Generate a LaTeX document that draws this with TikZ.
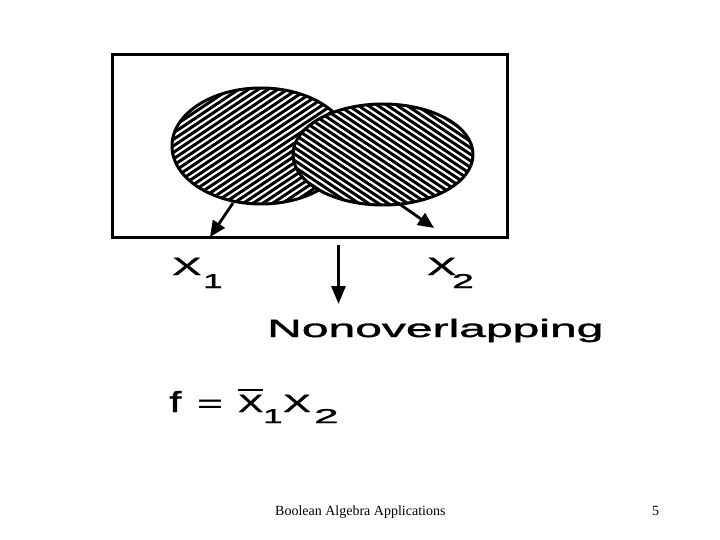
\documentclass[tikz,border=0pt]{standalone}
\usepackage{fontspec}
\setmainfont{Liberation Sans}
\newfontfamily\labfont[FakeBold=1.2]{Liberation Sans}
\newfontfamily\footfont{Liberation Serif}
\usetikzlibrary{arrows.meta}
\newcommand{\wide}[1]{\scalebox{1.75}[1]{#1}}
\newcommand{\subsz}{\fontsize{20}{24}\selectfont}
\newcommand{\bigsz}{\fontsize{29}{32}\selectfont}
\tikzset{
  lab/.style={inner sep=0pt, anchor=base west, font=\labfont\fontsize{25}{30}\selectfont},
  foot/.style={inner sep=0pt, anchor=base west, font=\footfont\fontsize{14}{16}\selectfont},
  hatch/.style={line width=3pt},
  outline/.style={line width=3pt},
  ptr/.style={line width=2.8pt, -{Triangle[length=16pt,width=14pt]}},
}
\begin{document}
\begin{tikzpicture}[x=1pt,y=-1pt]
\useasboundingbox (0,0) rectangle (720,540);
% frame
\draw[outline] (112,55) rectangle (507,237);
% left ellipse
\fill[white] (261,146) ellipse [x radius=89, y radius=58];
\begin{scope}
  \clip (261,146) ellipse [x radius=89, y radius=58];
  \foreach \j in {-182,-175.5,...,182}
    \draw[hatch] (261-150,146+\j+100) -- (261+150,146+\j-100);
\end{scope}
\draw[outline] (261,146) ellipse [x radius=89, y radius=58];
% right ellipse
\fill[white] (383,154.5) ellipse [x radius=90, y radius=50.5];
\begin{scope}
  \clip (383,154.5) ellipse [x radius=90, y radius=50.5];
  \foreach \j in {-182,-175.5,...,182}
    \draw[hatch] (383-150,154.5+\j-100) -- (383+150,154.5+\j+100);
\end{scope}
\draw[outline] (383,154.5) ellipse [x radius=90, y radius=50.5];
% pointers
\coordinate (l1) at (233,203);
\coordinate (l2) at (210,237);
\coordinate (r1) at (398,203);
\coordinate (r2) at (434,228);
\draw[ptr] (l1) -- (l2);
\draw[ptr] (r1) -- (r2);
% labels
\node[lab] (x1) at (172,275)
  {\makebox[31pt][l]{\wide{X}}\raisebox{-13pt}{\subsz\wide{1}}};
\node[lab] (x2) at (427,275)
  {\makebox[25pt][l]{\wide{X}}\raisebox{-13pt}{\subsz\scalebox{1.95}[1]{2}}};
\coordinate (d1) at (338.5,245);
\node[lab] (nono) at (267,337) {\scalebox{1.92}[1]{Nonoverlapping}};
\coordinate (d2) at (338.5,304);
\draw[line width=3pt, -{Triangle[length=18pt,width=14pt]}] (d1) -- (d2);
% formula
\node[lab] (f) at (169,412)
  {\makebox[28pt][l]{\bigsz\scalebox{1.5}[1]{f}}%
   \makebox[41pt][l]{\wide{=}}%
   \makebox[25pt][l]{\rlap{\raisebox{21pt}{\rule{25pt}{2pt}}}\scalebox{1.5}[1]{X}}%
   \makebox[20pt][l]{\raisebox{-11pt}{\subsz\wide{1}}}%
   \makebox[31pt][l]{\scalebox{1.65}[1]{X}}%
   \raisebox{-11pt}{\subsz\scalebox{2.2}[1]{2}}};
% footer
\node[foot] (ft) at (275,515) {Boolean Algebra Applications};
\node[foot] (pg) at (652,515) {5};
\end{tikzpicture}
\end{document}
